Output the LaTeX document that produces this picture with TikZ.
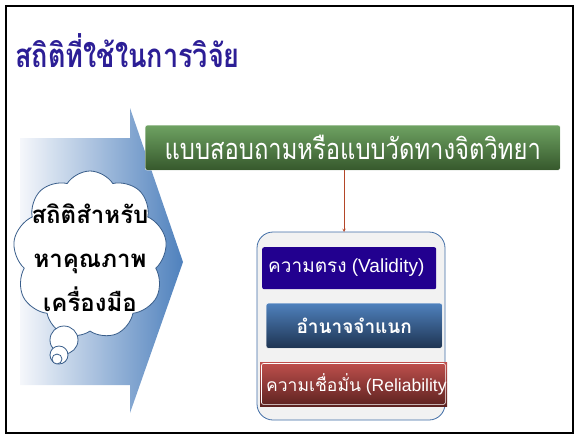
\documentclass[tikz,border=0pt]{standalone}
\usepackage{fontspec}
\setmainfont{Liberation Sans}
\newfontfamily\thai[Script=Thai]{Loma}
\newfontfamily\thainarrow[Script=Thai,FakeStretch=0.82]{Loma}
\usetikzlibrary{shapes.symbols}
\definecolor{titleblue}{RGB}{44,30,150}
\definecolor{arrowblue}{RGB}{79,129,189}
\definecolor{arrowpale}{RGB}{245,247,251}
\definecolor{cloudline}{RGB}{56,93,138}
\definecolor{greentop}{RGB}{110,162,98}
\definecolor{greenbot}{RGB}{54,88,44}
\definecolor{contfill}{RGB}{242,242,242}
\definecolor{contline}{RGB}{64,109,166}
\definecolor{validfill}{RGB}{34,0,143}
\definecolor{bluetop}{RGB}{79,129,189}
\definecolor{bluebot}{RGB}{30,52,82}
\definecolor{redtop}{RGB}{192,80,77}
\definecolor{redbot}{RGB}{92,34,32}
\definecolor{connred}{RGB}{180,70,40}
\tikzset{
  bubble/.style={cloudline, fill=white, line width=0.8pt},
}
\begin{document}
\begin{tikzpicture}[x=1pt,y=-1pt]
\useasboundingbox (0,0) rectangle (577,437);
% frame
\draw[line width=2pt] (6,6) rectangle (573,433);
% title
\node[anchor=base west, inner sep=0pt, text=titleblue, font=\thainarrow\bfseries\fontsize{33}{40}\selectfont] (title) at (15,67) {สถิติที่ใช้ในการวิจัย};
% big arrow
\shade[left color=arrowpale, right color=arrowblue]
  (20,138) -- (130,138) -- (130,108) -- (183,262) -- (130,413) -- (130,385) -- (20,385) -- cycle;
% cloud
\node[cloud, cloud puffs=9, cloud puff arc=115, aspect=0.9, draw=cloudline, fill=white, line width=0.8pt,
      minimum width=154pt, minimum height=168pt, inner sep=0pt] (cloud) at (90,255) {};
\draw[bubble] (64,340) circle (14);
\draw[bubble] (59,355) circle (9);
\draw[bubble] (57,359) circle (5);
\node[align=center, font=\thai\bfseries\fontsize{24}{44}\selectfont, inner sep=0pt] (cloudtext) at (90,258)
  {สถิติสำหรับ\\หาคุณภาพ\\เครื่องมือ};
% green box
\node[shade, top color=greentop, bottom color=greenbot, draw=white, rounded corners=2pt,
      minimum width=415pt, minimum height=45pt, inner sep=0pt, anchor=north west,
      text=white, font=\thainarrow\fontsize{29}{32}\selectfont] (green) at (145,125)
  {แบบสอบถามหรือแบบวัดทางจิตวิทยา};
% container
\draw[contline, fill=contfill, line width=0.8pt, rounded corners=16pt] (257,232) rectangle (445,420);
\coordinate (conttop) at (344,232);
\draw[connred, ->, >=stealth, line width=0.5pt] (green.south -| conttop) -- (conttop);
% validity box
\node[fill=validfill, rounded corners=2pt, minimum width=174pt, minimum height=42pt, inner sep=0pt,
      anchor=north west] (valid) at (262,247) {};
\node[anchor=west, inner sep=0pt, text=white] (validtext) at (268,268)
  {\fontsize{19}{22}\selectfont{\thai ความตรง} (Validity)};
% discrimination box
\node[shade, top color=bluetop, bottom color=bluebot, draw=white, rounded corners=2pt,
      minimum width=176pt, minimum height=45pt, inner sep=0pt, anchor=north west,
      text=white, font=\thai\bfseries\fontsize{19}{22}\selectfont] (disc) at (266,303) {อำนาจจำแนก};
% reliability box
\node[shade, top color=redtop, bottom color=redbot, minimum width=187pt, minimum height=44pt,
      inner sep=0pt, anchor=north west] (rel) at (260,362) {};
\draw[white, line width=0.6pt, rounded corners=2pt] ([shift={(1.5,1.5)}]rel.north west) rectangle ([shift={(-2,-2)}]rel.south east);
\node[anchor=west, inner sep=0pt, text=white] (reltext) at (266,384)
  {\fontsize{17.5}{22}\selectfont{\thai ความเชื่อมั่น} (Reliability};
\end{tikzpicture}
\end{document}
